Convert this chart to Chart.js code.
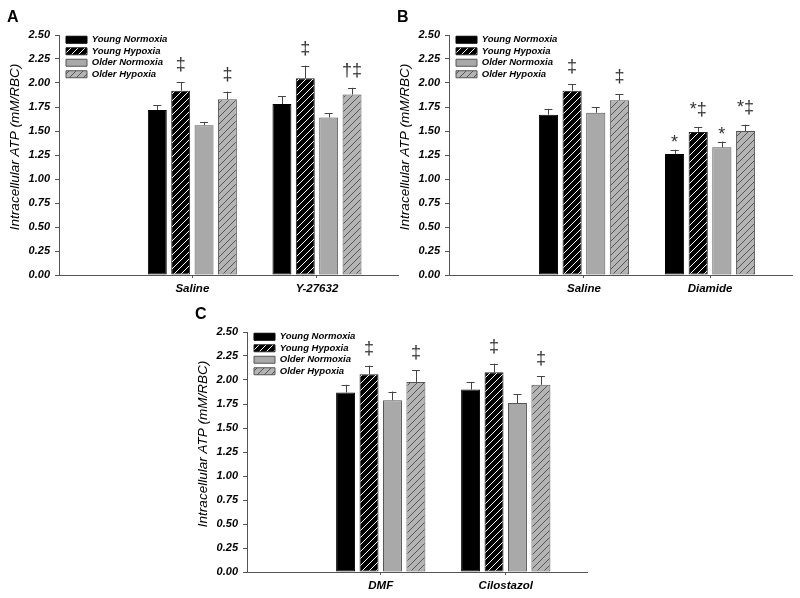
<!DOCTYPE html>
<html>
<head>
<meta charset="utf-8">
<title>Intracellular ATP</title>
<script src="https://cdn.jsdelivr.net/npm/chart.js@4.4.0/dist/chart.umd.min.js"></script>
<style>
  body { margin: 0; background: #fff; }
  #wrap { position: relative; width: 800px; height: 598px; }
  #wrap canvas { position: absolute; }
</style>
</head>
<body>
<div id="wrap">
  <canvas id="chartA" width="400" height="300" style="left:0;top:0"></canvas>
  <canvas id="chartB" width="410" height="300" style="left:390px;top:0"></canvas>
  <canvas id="chartC" width="402" height="300" style="left:188px;top:297px"></canvas>
</div>
<script>
/* ============================================================
   DATA
   ============================================================ */
const seriesNames = ['Young Normoxia', 'Young Hypoxia', 'Older Normoxia', 'Older Hypoxia'];
const yTicks = [0, 0.25, 0.5, 0.75, 1, 1.25, 1.5, 1.75, 2, 2.25, 2.5];
const yTitle = 'Intracellular ATP (mM/RBC)';

// Panel A
const groupsA = ['Saline', 'Y-27632'];
const meansA  = [[1.72, 1.78], [1.92, 2.05], [1.56, 1.64], [1.83, 1.88]];
const errsA   = [[0.05, 0.08], [0.09, 0.13], [0.035, 0.045], [0.08, 0.07]];
const sigsA   = [['', ''], ['‡', '‡'], ['', ''], ['‡', '†‡']];

// Panel B
const groupsB = ['Saline', 'Diamide'];
const meansB  = [[1.67, 1.26], [1.92, 1.49], [1.69, 1.33], [1.82, 1.50]];
const errsB   = [[0.06, 0.045], [0.07, 0.05], [0.06, 0.06], [0.065, 0.065]];
const sigsB   = [['', '*'], ['‡', '*‡'], ['', '*'], ['‡', '*‡']];

// Panel C
const groupsC = ['DMF', 'Cilostazol'];
const meansC  = [[1.87, 1.90], [2.06, 2.08], [1.79, 1.76], [1.98, 1.95]];
const errsC   = [[0.08, 0.08], [0.09, 0.09], [0.09, 0.09], [0.12, 0.09]];
const sigsC   = [['', ''], ['‡', '‡'], ['', ''], ['‡', '‡']];

/* ============================================================
   STYLE
   ============================================================ */
const FONT = "'Liberation Sans', Arial, sans-serif";
const AXIS = '#555';
Chart.defaults.font.family = FONT;
Chart.defaults.color = '#000';

function hatch(bg, fg, size) {
  const c = document.createElement('canvas');
  c.width = c.height = size;
  const g = c.getContext('2d');
  g.fillStyle = bg;
  g.fillRect(0, 0, size, size);
  g.strokeStyle = fg;
  g.lineWidth = 1;
  g.beginPath();
  g.moveTo(0, size);  g.lineTo(size, 0);
  g.moveTo(-1, 1);    g.lineTo(1, -1);
  g.moveTo(size - 1, size + 1); g.lineTo(size + 1, size - 1);
  g.stroke();
  return g.createPattern(c, 'repeat');
}

const fills   = ['#000', hatch('#000', '#fff', 7), '#a9a9a9', hatch('#b4b4b4', '#555', 7)];
const borders = ['#000', '#222', '#555', '#555'];

/* ============================================================
   PLUGINS
   ============================================================ */
// error bars (upper only) + significance marks
const errorBars = {
  id: 'errorBars',
  afterDatasetsDraw(chart) {
    const { ctx } = chart;
    const y = chart.scales.y;
    ctx.save();
    chart.data.datasets.forEach((ds, i) => {
      const meta = chart.getDatasetMeta(i);
      meta.data.forEach((bar, j) => {
        const top = y.getPixelForValue(ds.data[j].y + ds.errs[j]);
        ctx.strokeStyle = '#444';
        ctx.lineWidth = 1;
        ctx.beginPath();
        ctx.moveTo(Math.round(bar.x) + 0.5, bar.y);
        ctx.lineTo(Math.round(bar.x) + 0.5, top);
        ctx.moveTo(bar.x - 4, Math.round(top) + 0.5);
        ctx.lineTo(bar.x + 4, Math.round(top) + 0.5);
        ctx.stroke();

        const s = ds.sigs[j];
        if (!s) return;
        ctx.fillStyle = '#333';
        ctx.font = '18px ' + FONT;
        ctx.textAlign = 'center';
        ctx.textBaseline = 'alphabetic';
        const base = s.includes('‡') ? top - 12 : top - 2;
        ctx.fillText(s, bar.x, base);
      });
    });
    ctx.restore();
  }
};

// legend inside the plot, y title, panel letter
const panelDecor = {
  id: 'panelDecor',
  afterLayout(chart) {
    chart.legend.left = chart.chartArea.left + 5;
    chart.legend.top = chart.chartArea.top - 2;
  },
  afterDraw(chart, args, opts) {
    const { ctx, chartArea } = chart;
    ctx.save();
    ctx.fillStyle = '#000';
    ctx.font = 'bold 16px ' + FONT;
    ctx.textAlign = 'left';
    ctx.textBaseline = 'alphabetic';
    ctx.fillText(opts.letter, 7, 22);

    // axis title sits a little above the plot's middle
    ctx.translate(15, (chartArea.top + chartArea.bottom) / 2 - 8);
    ctx.rotate(-Math.PI / 2);
    ctx.font = 'italic 13.5px ' + FONT;
    ctx.textAlign = 'center';
    ctx.textBaseline = 'middle';
    ctx.fillText(yTitle, 0, 0);
    ctx.restore();
  }
};

/* ============================================================
   CHART FACTORY
   ============================================================ */
function makeChart(id, letter, groups, means, errs, sigs, padRight) {
  const datasets = seriesNames.map((name, i) => ({
    label: name,
    data: means[i].map((v, j) => ({ x: j, y: v })),
    errs: errs[i],
    sigs: sigs[i],
    backgroundColor: fills[i],
    borderColor: borders[i],
    borderWidth: 1,
    borderSkipped: false,
    categoryPercentage: 0.75,
    barPercentage: 0.81,
  }));

  return new Chart(document.getElementById(id), {
    type: 'bar',
    data: { datasets },
    plugins: [errorBars, panelDecor],
    options: {
      responsive: false,
      animation: false,
      devicePixelRatio: 1,
      layout: { padding: { left: 7, top: 35, right: padRight, bottom: 0 } },
      plugins: {
        panelDecor: { letter },
        tooltip: { enabled: false },
        legend: {
          position: 'chartArea',
          align: 'start',
          labels: {
            boxWidth: 21,
            boxHeight: 7,
            padding: 2,
            color: '#000',
            font: { size: 9.5, weight: 'bold', style: 'italic' },
          },
        },
      },
      scales: {
        x: {
          type: 'linear',
          offset: false,
          min: -1.07,
          max: 1.65,
          afterBuildTicks: s => { s.ticks = groups.map((_, j) => ({ value: j })); },
          afterFit: s => { s.height = 25; },
          ticks: {
            callback: v => groups[v],
            padding: 4,
            color: '#000',
            font: { size: 11.5, weight: 'bold', style: 'italic' },
            maxRotation: 0,
          },
          grid: { offset: false, drawOnChartArea: false, drawTicks: true, tickLength: 3, color: AXIS },
          border: { display: true, color: AXIS, width: 1 },
        },
        y: {
          min: 0,
          max: 2.5,
          afterBuildTicks: s => { s.ticks = yTicks.map(v => ({ value: v })); },
          afterFit: s => { s.width = 52; },
          ticks: {
            callback: v => v.toFixed(2),
            padding: 5,
            color: '#000',
            font: { size: 11, weight: 'bold', style: 'italic' },
          },
          grid: { drawOnChartArea: false, drawTicks: true, tickLength: 4, color: AXIS },
          border: { display: true, color: AXIS, width: 1 },
        },
      },
    },
  });
}

makeChart('chartA', 'A', groupsA, meansA, errsA, sigsA, 2);
makeChart('chartB', 'B', groupsB, meansB, errsB, sigsB, 8);
makeChart('chartC', 'C', groupsC, meansC, errsC, sigsC, 3);
</script>
</body>
</html>
